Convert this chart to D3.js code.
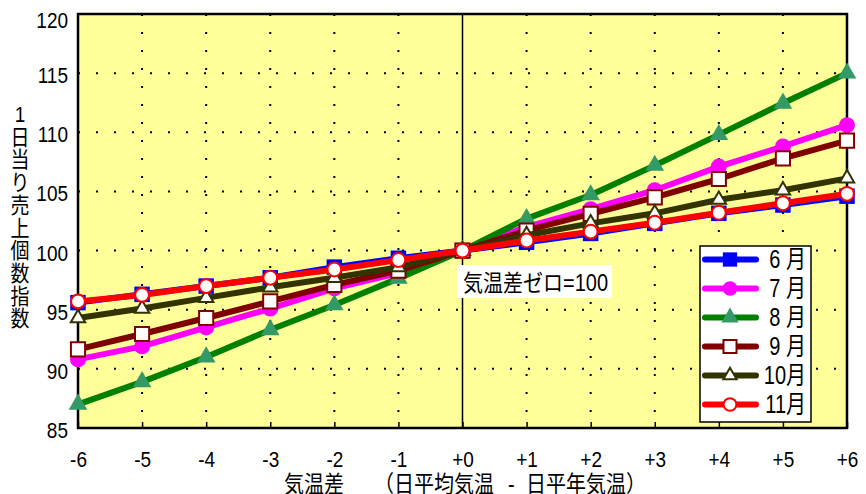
<!DOCTYPE html>
<html>
<head>
<meta charset="utf-8">
<script src="https://cdn.jsdelivr.net/npm/d3@7"></script>
<style>
  html, body { margin: 0; padding: 0; background: #ffffff; }
  svg { display: block; }
</style>
</head>
<body>
<svg id="chart" width="866" height="494"></svg>
<script>
// Temperature difference (daily mean minus normal), in degrees
const tempDiff = [-6, -5, -4, -3, -2, -1, 0, 1, 2, 3, 4, 5, 6];
const xTickLabels = ["-6", "-5", "-4", "-3", "-2", "-1", "+0", "+1", "+2", "+3", "+4", "+5", "+6"];
const yTicks = [85, 90, 95, 100, 105, 110, 115, 120];

// Daily units-sold index per month (zero difference = 100)
const june = [95.6, 96.3, 97.0, 97.7, 98.6, 99.35, 100, 100.7, 101.45, 102.3, 103.15, 103.85, 104.6];
const july = [90.8, 91.9, 93.5, 95.1, 96.8, 98.1, 100, 102.0, 103.5, 105.1, 107.1, 108.8, 110.6];
const august = [87.0, 88.9, 91.0, 93.3, 95.4, 97.65, 100, 102.7, 104.7, 107.2, 109.8, 112.45, 115.0];
const september = [91.65, 92.95, 94.3, 95.7, 97.1, 98.3, 100, 101.7, 103.1, 104.5, 106.05, 107.8, 109.3];
const october = [94.3, 95.1, 96.0, 96.9, 97.7, 98.6, 100, 101.3, 102.3, 103.15, 104.3, 105.1, 106.1];
const november = [95.7, 96.25, 97.0, 97.7, 98.4, 99.2, 100, 100.85, 101.6, 102.35, 103.2, 104.0, 104.8];

const monthNames = ["6 月", "7 月", "8 月", "9 月", "10月", "11月"];
const yTitle = ["1", "日", "当", "り", "売", "上", "個", "数", "指", "数"];
// x title pieces: [text, left x]
const xTitleParts = [["気温差", 284], ["（日平均気温", 374], ["-", 508], ["日平年気温）", 526]];
const zeroNote = "気温差ゼロ=100";

const seriesValues = [june, july, august, september, october, november];
const styles = [
  { line: "#0000ff", lw: 6, sym: d3.symbolSquare, size: 240, fill: "#0000ff", stroke: "none", sw: 0 },
  { line: "#ff00ff", lw: 6, sym: d3.symbolCircle, size: 200, fill: "#ff00ff", stroke: "none", sw: 0 },
  { line: "#008000", lw: 6, sym: d3.symbolTriangle, size: 150, fill: "#339966", stroke: "none", sw: 0 },
  { line: "#800000", lw: 6, sym: d3.symbolSquare, size: 200, fill: "#ffffff", stroke: "#800000", sw: 2 },
  { line: "#333300", lw: 6, sym: d3.symbolTriangle, size: 90, fill: "#ffffff", stroke: "#333300", sw: 2 },
  { line: "#ff0000", lw: 6, sym: d3.symbolCircle, size: 150, fill: "#ffffff", stroke: "#ff0000", sw: 2 }
];

const FONT = "'Liberation Sans', Arial, 'Noto Sans CJK JP', sans-serif";
const SY = 1.15; // glyphs are drawn slightly tall

const svg = d3.select("#chart");
const L = 78, R = 847, T = 14, B = 428;

const x = d3.scaleLinear().domain([-6, 6]).range([L, R]);
const y = d3.scaleLinear().domain([85, 120]).range([B, T]);

// plot background
svg.append("rect").attr("x", L).attr("y", T).attr("width", R - L).attr("height", B - T)
  .attr("fill", "#ffff99");

// dotted grid
const grid = svg.append("g").attr("stroke", "#000").attr("stroke-width", 2)
  .attr("stroke-dasharray", "2 16");
grid.selectAll("line.h").data(yTicks.filter(v => v > 85 && v < 120)).join("line")
  .attr("class", "h")
  .attr("x1", L).attr("x2", R).attr("y1", d => y(d)).attr("y2", d => y(d));
grid.selectAll("line.v").data(tempDiff.filter(v => v !== 0 && Math.abs(v) < 6)).join("line")
  .attr("class", "v")
  .attr("x1", d => x(d)).attr("x2", d => x(d)).attr("y1", T).attr("y2", B);

// zero line
svg.append("line").attr("x1", x(0)).attr("x2", x(0)).attr("y1", T).attr("y2", B)
  .attr("stroke", "#000").attr("stroke-width", 1.5);

// x axis: inner ticks and labels
const xAxis = d3.axisBottom(x).tickValues(tempDiff).tickSizeInner(-6).tickSizeOuter(0)
  .tickFormat((d, i) => xTickLabels[i]);
const gx = svg.append("g").attr("transform", `translate(0,${B})`).call(xAxis);
gx.select(".domain").remove();
gx.selectAll(".tick line").attr("stroke", "#000").attr("stroke-width", 1.5);
gx.selectAll(".tick text")
  .attr("font-family", FONT).attr("font-size", 19).attr("fill", "#000")
  .attr("y", 0).attr("dy", 0)
  .attr("transform", `translate(0,39) scale(1,${SY})`);

// y axis labels
const yAxis = d3.axisLeft(y).tickValues(yTicks).tickSize(0).tickPadding(10);
const gy = svg.append("g").attr("transform", `translate(${L},0)`).call(yAxis);
gy.select(".domain").remove();
gy.selectAll(".tick").each(function (d) {
  const dy = Math.max(y(d) + 2, T + 5.5) - y(d);
  d3.select(this).select("text")
    .attr("font-family", FONT).attr("font-size", 19).attr("fill", "#000")
    .attr("dy", 0).attr("y", 0).attr("x", -10)
    .attr("transform", `translate(0,${dy + 7.5}) scale(1,${SY})`);
});

// frame
svg.append("rect").attr("x", L).attr("y", T).attr("width", R - L).attr("height", B - T)
  .attr("fill", "none").attr("stroke", "#000").attr("stroke-width", 2.5);

// series lines and markers
const lineGen = d3.line().x((d, i) => x(tempDiff[i])).y(d => y(d));
seriesValues.forEach((vals, k) => {
  const s = styles[k];
  const g = svg.append("g");
  g.append("path").attr("d", lineGen(vals)).attr("fill", "none")
    .attr("stroke", s.line).attr("stroke-width", s.lw).attr("stroke-linejoin", "round");
  g.selectAll("path.m").data(vals).join("path").attr("class", "m")
    .attr("transform", (d, i) => `translate(${x(tempDiff[i])},${y(d)})`)
    .attr("d", d3.symbol().type(s.sym).size(s.size))
    .attr("fill", s.fill).attr("stroke", s.stroke).attr("stroke-width", s.sw);
});

// zero-difference note
svg.append("rect").attr("x", 457).attr("y", 265).attr("width", 155).attr("height", 33)
  .attr("fill", "#ffffff");
svg.append("text").attr("font-family", FONT).attr("font-size", 20).attr("fill", "#000")
  .attr("transform", `translate(463,291) scale(1,${SY})`).text(zeroNote);

// legend
const lg = svg.append("g");
lg.append("rect").attr("x", 700).attr("y", 246).attr("width", 111).attr("height", 176)
  .attr("fill", "#ffffff").attr("stroke", "#000").attr("stroke-width", 1.5);
monthNames.forEach((name, k) => {
  const s = styles[k];
  const cy = 259.5 + k * 29;
  lg.append("line").attr("x1", 705).attr("x2", 756).attr("y1", cy).attr("y2", cy)
    .attr("stroke", s.line).attr("stroke-width", 6).attr("stroke-linecap", "round");
  lg.append("path").attr("transform", `translate(730,${cy})`)
    .attr("d", d3.symbol().type(s.sym).size(s.size * 0.85))
    .attr("fill", s.fill).attr("stroke", s.stroke).attr("stroke-width", s.sw);
  lg.append("text").attr("font-family", FONT).attr("font-size", 20).attr("fill", "#000")
    .attr("text-anchor", "end")
    .attr("transform", `translate(806,${cy + 8}) scale(1,${SY + 0.1})`).text(name);
});

// y title, stacked vertically
svg.append("g").selectAll("text").data(yTitle).join("text")
  .attr("font-family", FONT).attr("font-size", 19).attr("fill", "#000")
  .attr("text-anchor", "middle")
  .attr("transform", (d, i) => `translate(20,${122 + i * 22.7}) scale(1,${SY})`)
  .text(d => d);

// x title
svg.append("g").selectAll("text").data(xTitleParts).join("text")
  .attr("font-family", FONT).attr("font-size", 20).attr("fill", "#000")
  .attr("transform", d => `translate(${d[1]},492) scale(1,${SY})`)
  .text(d => d[0]);
</script>
</body>
</html>
